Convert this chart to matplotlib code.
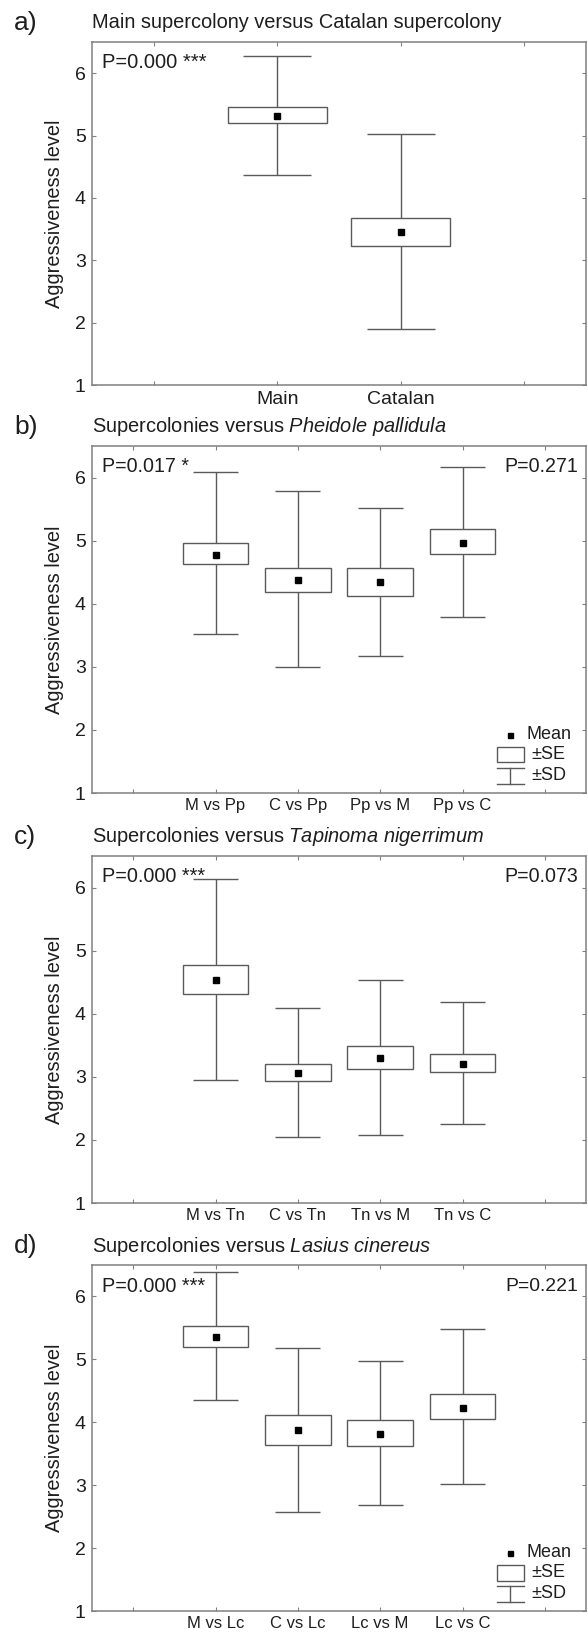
import matplotlib
matplotlib.use("Agg")
import matplotlib.pyplot as plt
from matplotlib.patches import Rectangle
from matplotlib.lines import Line2D

plt.rcParams['font.family'] = ['Liberation Sans', 'DejaVu Sans']
plt.rcParams['mathtext.fontset'] = 'custom'
plt.rcParams['mathtext.rm'] = 'Liberation Sans'
plt.rcParams['mathtext.it'] = 'Liberation Sans:italic'

# ---------------- data ----------------
groups_a = ["Main", "Catalan"]
mean_a = [5.31, 3.45]
se_lo_a = [5.20, 3.23]
se_hi_a = [5.45, 3.68]
sd_lo_a = [4.37, 1.89]
sd_hi_a = [6.28, 5.02]

groups_b = ["M vs Pp", "C vs Pp", "Pp vs M", "Pp vs C"]
mean_b = [4.78, 4.37, 4.34, 4.97]
se_lo_b = [4.63, 4.19, 4.13, 4.79]
se_hi_b = [4.97, 4.57, 4.56, 5.18]
sd_lo_b = [3.52, 2.99, 3.17, 3.79]
sd_hi_b = [6.09, 5.79, 5.52, 6.17]

groups_c = ["M vs Tn", "C vs Tn", "Tn vs M", "Tn vs C"]
mean_c = [4.53, 3.06, 3.30, 3.20]
se_lo_c = [4.32, 2.93, 3.12, 3.08]
se_hi_c = [4.77, 3.21, 3.49, 3.36]
sd_lo_c = [2.95, 2.05, 2.08, 2.26]
sd_hi_c = [6.14, 4.09, 4.53, 4.18]

groups_d = ["M vs Lc", "C vs Lc", "Lc vs M", "Lc vs C"]
mean_d = [5.35, 3.87, 3.81, 4.23]
se_lo_d = [5.20, 3.64, 3.62, 4.05]
se_hi_d = [5.53, 4.11, 4.03, 4.45]
sd_lo_d = [4.35, 2.58, 2.68, 3.02]
sd_hi_d = [6.39, 5.18, 4.98, 5.48]

panel_labels = ["a)", "b)", "c)", "d)"]
titles = ["Main supercolony versus Catalan supercolony",
          r"Supercolonies versus $\it{Pheidole\ pallidula}$",
          r"Supercolonies versus $\it{Tapinoma\ nigerrimum}$",
          r"Supercolonies versus $\it{Lasius\ cinereus}$"]
p_left = ["P=0.000 ***", "P=0.017 *", "P=0.000 ***", "P=0.000 ***"]
p_right = [None, "P=0.271", "P=0.073", "P=0.221"]
show_legend = [False, True, False, True]
ylabel = "Aggressiveness level"
yticks = [1, 2, 3, 4, 5, 6]

# ---------------- style ----------------
W, H = 588, 1635
spine_c = "#808080"
line_c = "#5a5a5a"
text_c = "#1e1e1e"
box_w = 0.8
cap_w = 0.55

# target text widths (pixels) measured on the reference, used to fit font sizes
title_w = [411, 354, 392, 339]
pleft_w = [105, 87, 104, 104]
pright_w = [None, 74, 74, 73]
ylabel_len = 189

fig = plt.figure(figsize=(W / 100, H / 100), dpi=100)
renderer = fig.canvas.get_renderer()


def fit(t, target, vertical=False):
    bb = t.get_window_extent(renderer)
    cur = bb.height if vertical else bb.width
    if cur > 0:
        t.set_fontsize(t.get_fontsize() * target / cur)


ax_left, ax_right = 92, 586
rows = [(42, 385), (446, 793), (856, 1203), (1265, 1611)]

panels = [
    (groups_a, mean_a, se_lo_a, se_hi_a, sd_lo_a, sd_hi_a),
    (groups_b, mean_b, se_lo_b, se_hi_b, sd_lo_b, sd_hi_b),
    (groups_c, mean_c, se_lo_c, se_hi_c, sd_lo_c, sd_hi_c),
    (groups_d, mean_d, se_lo_d, se_hi_d, sd_lo_d, sd_hi_d),
]

for i, (grp, mn, slo, shi, dlo, dhi) in enumerate(panels):
    top, bot = rows[i]
    ax = fig.add_axes([ax_left / W, 1 - bot / H, (ax_right - ax_left) / W, (bot - top) / H])
    n = len(grp)
    xs = list(range(1, n + 1))
    ax.vlines(xs, dlo, dhi, color=line_c, lw=1.0, zorder=2)
    ax.hlines(dlo, [x - cap_w / 2 for x in xs], [x + cap_w / 2 for x in xs], color=line_c, lw=1.0, zorder=2)
    ax.hlines(dhi, [x - cap_w / 2 for x in xs], [x + cap_w / 2 for x in xs], color=line_c, lw=1.0, zorder=2)
    ax.bar(xs, [h - l for h, l in zip(shi, slo)], bottom=slo, width=box_w,
           facecolor="white", edgecolor=line_c, linewidth=1.0, zorder=3)
    ax.plot(xs, mn, linestyle="none", marker="s", markersize=4.2, color="black", zorder=4)

    ax.set_xlim(-0.5, n + 1.5)
    ax.set_ylim(1, 6.5)
    ax.set_xticks(list(range(0, n + 2)))
    ax.set_xticklabels([""] + grp + [""], fontsize=14 if n == 2 else 12, color=text_c)
    ax.set_yticks(yticks)
    ax.set_yticklabels([str(v) for v in yticks], fontsize=14, color=text_c)
    ax.tick_params(direction="in", length=3, width=0.8, color=spine_c, top=True, right=True,
                   pad=4.5)
    ax.tick_params(axis="x", pad=4 if n == 2 else 3.5)
    for s in ax.spines.values():
        s.set_color(spine_c)
        s.set_linewidth(1.1)
    yl = ax.set_ylabel(ylabel, fontsize=14.5, color=text_c, labelpad=8)
    fit(yl, ylabel_len, vertical=True)

    t = ax.annotate(titles[i], xy=(0, 1), xycoords="axes fraction", xytext=(0, 19),
                    textcoords="offset pixels", ha="left", va="center", fontsize=14.5, color=text_c)
    fit(t, title_w[i])
    ax.annotate(panel_labels[i], xy=(0, 1), xycoords="axes fraction", xytext=(-78, 19),
                textcoords="offset pixels", ha="left", va="center", fontsize=19, color=text_c)
    t = ax.annotate(p_left[i], xy=(0, 1), xycoords="axes fraction", xytext=(10, -21),
                    textcoords="offset pixels", ha="left", va="center", fontsize=14, color=text_c)
    fit(t, pleft_w[i])
    if p_right[i]:
        t = ax.annotate(p_right[i], xy=(1, 1), xycoords="axes fraction", xytext=(-8, -21),
                        textcoords="offset pixels", ha="right", va="center", fontsize=14, color=text_c)
        fit(t, pright_w[i])

    if show_legend[i]:
        tr = ax.transAxes
        ax.add_line(Line2D([0.847], [0.168], transform=tr, marker="s", markersize=3.6,
                           color="black", linestyle="none"))
        ax.add_patch(Rectangle((0.820, 0.088), 0.054, 0.046, transform=tr,
                               facecolor="white", edgecolor=line_c, linewidth=1.0))
        ax.add_line(Line2D([0.820, 0.874], [0.073, 0.073], transform=tr, color=line_c, lw=1.0))
        ax.add_line(Line2D([0.820, 0.874], [0.027, 0.027], transform=tr, color=line_c, lw=1.0))
        ax.add_line(Line2D([0.847, 0.847], [0.027, 0.073], transform=tr, color=line_c, lw=1.0))
        ax.text(0.880, 0.168, "Mean", transform=tr, ha="left", va="center", fontsize=13, color=text_c)
        ax.text(0.890, 0.111, "\u00b1SE", transform=tr, ha="left", va="center", fontsize=13, color=text_c)
        ax.text(0.890, 0.050, "\u00b1SD", transform=tr, ha="left", va="center", fontsize=13, color=text_c)

fig.savefig("out.png", dpi=100, facecolor="white")
